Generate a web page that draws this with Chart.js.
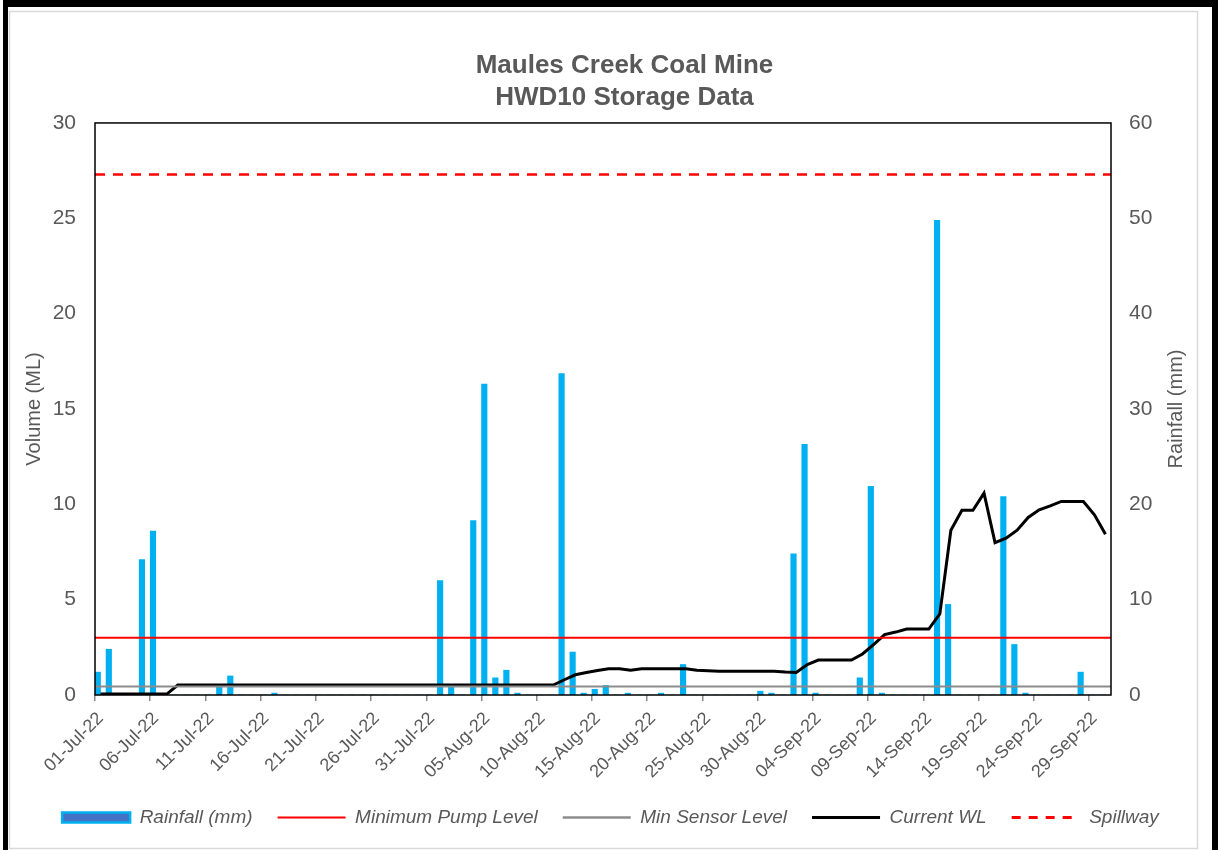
<!DOCTYPE html>
<html>
<head>
<meta charset="utf-8">
<script src="https://cdn.jsdelivr.net/npm/chart.js@4.4.0/dist/chart.umd.min.js"></script>
<style>
  html, body { margin: 0; padding: 0; background: #fff; }
  #wrap { position: relative; width: 1218px; height: 850px; }
</style>
</head>
<body>
<div id="wrap"><canvas id="storageChart" width="1218" height="850"></canvas></div>
<script>
// daily categories, 01-Jul-22 .. 30-Sep-22
const dates = [
    '01-Jul-22', '02-Jul-22', '03-Jul-22', '04-Jul-22', '05-Jul-22', '06-Jul-22', '07-Jul-22', '08-Jul-22',
    '09-Jul-22', '10-Jul-22', '11-Jul-22', '12-Jul-22', '13-Jul-22', '14-Jul-22', '15-Jul-22', '16-Jul-22',
    '17-Jul-22', '18-Jul-22', '19-Jul-22', '20-Jul-22', '21-Jul-22', '22-Jul-22', '23-Jul-22', '24-Jul-22',
    '25-Jul-22', '26-Jul-22', '27-Jul-22', '28-Jul-22', '29-Jul-22', '30-Jul-22', '31-Jul-22',
    '01-Aug-22', '02-Aug-22', '03-Aug-22', '04-Aug-22', '05-Aug-22', '06-Aug-22', '07-Aug-22', '08-Aug-22',
    '09-Aug-22', '10-Aug-22', '11-Aug-22', '12-Aug-22', '13-Aug-22', '14-Aug-22', '15-Aug-22', '16-Aug-22',
    '17-Aug-22', '18-Aug-22', '19-Aug-22', '20-Aug-22', '21-Aug-22', '22-Aug-22', '23-Aug-22', '24-Aug-22',
    '25-Aug-22', '26-Aug-22', '27-Aug-22', '28-Aug-22', '29-Aug-22', '30-Aug-22', '31-Aug-22',
    '01-Sep-22', '02-Sep-22', '03-Sep-22', '04-Sep-22', '05-Sep-22', '06-Sep-22', '07-Sep-22', '08-Sep-22',
    '09-Sep-22', '10-Sep-22', '11-Sep-22', '12-Sep-22', '13-Sep-22', '14-Sep-22', '15-Sep-22', '16-Sep-22',
    '17-Sep-22', '18-Sep-22', '19-Sep-22', '20-Sep-22', '21-Sep-22', '22-Sep-22', '23-Sep-22', '24-Sep-22',
    '25-Sep-22', '26-Sep-22', '27-Sep-22', '28-Sep-22', '29-Sep-22', '30-Sep-22'
];

// daily rainfall (mm), right axis
const rainfall = [
    2.4, 4.8, 0, 0, 14.2, 17.2, 0, 0, 0, 0, 0, 0.8, 2.0, 0, 0, 0,
    0.2, 0, 0, 0, 0, 0, 0, 0, 0, 0, 0, 0, 0, 0, 0,
    12.0, 0.8, 0, 18.3, 32.6, 1.8, 2.6, 0.2, 0, 0, 0, 33.7, 4.5, 0.2, 0.6, 1.0,
    0, 0.2, 0, 0, 0.2, 0, 3.2, 0, 0, 0, 0, 0, 0, 0.4, 0.2,
    0, 14.8, 26.3, 0.2, 0, 0, 0, 1.8, 21.9, 0.2, 0, 0, 0, 0, 49.8, 9.5,
    0, 0, 0, 0, 20.8, 5.3, 0.2, 0, 0, 0, 0, 2.4, 0, 0
];

// storage volume (ML), left axis
const currentWL = [
    0.05, 0.05, 0.05, 0.05, 0.05, 0.05, 0.05, 0.52, 0.52, 0.52, 0.52, 0.52, 0.52, 0.52, 0.52, 0.52,
    0.52, 0.52, 0.52, 0.52, 0.52, 0.52, 0.52, 0.52, 0.52, 0.52, 0.52, 0.52, 0.52, 0.52, 0.52,
    0.52, 0.52, 0.52, 0.52, 0.52, 0.52, 0.52, 0.52, 0.52, 0.52, 0.52, 0.8, 1.06, 1.18, 1.28, 1.38,
    1.38, 1.3, 1.38, 1.38, 1.38, 1.38, 1.38, 1.3, 1.27, 1.25, 1.25, 1.25, 1.25, 1.25, 1.25,
    1.2, 1.18, 1.6, 1.83, 1.83, 1.83, 1.83, 2.15, 2.64, 3.17, 3.3, 3.46, 3.46, 3.46, 4.25, 8.64,
    9.69, 9.69, 10.59, 7.99, 8.22, 8.64, 9.31, 9.71, 9.92, 10.15, 10.15, 10.15, 9.45, 8.43
];

const minPumpLevel = 3.0;
const minSensorLevel = 0.45;
const spillwayLevel = 27.3;

const seriesNames = ['Rainfall (mm)', 'Minimum Pump Level', 'Min Sensor Level', 'Current WL', 'Spillway'];

const textColor = '#595959';
const fontFamily = '"Liberation Sans", Arial, sans-serif';

// legend look per dataset (same order as datasets)
const legendLook = [
    {pointStyle: 'rect', fillStyle: '#4472C4', strokeStyle: '#00B0F0', lineWidth: 2.5},
    {pointStyle: 'line', strokeStyle: '#FF0000', lineWidth: 2},
    {pointStyle: 'line', strokeStyle: '#8C8C8C', lineWidth: 2.5},
    {pointStyle: 'line', strokeStyle: '#000000', lineWidth: 3},
    {pointStyle: 'line', strokeStyle: '#FF0000', lineWidth: 3, lineDash: [9, 8]},
];

const framePlugin = {
    id: 'frame',
    afterLayout(chart) {
        // legend sits a little left of the title in the original
        chart.legend.left -= 14;
        chart.legend.right -= 14;
    },
    beforeDraw(chart) {
        const {ctx, width, height} = chart;
        ctx.save();
        ctx.fillStyle = '#fff';
        ctx.fillRect(0, 0, width, height);
        ctx.strokeStyle = '#d9d9d9';
        ctx.lineWidth = 1.5;
        ctx.strokeRect(9.5, 11.5, 1188, 837);
        ctx.fillStyle = '#000';
        ctx.fillRect(3, 0, width - 3, 7);
        ctx.fillRect(3, 0, 5, height);
        ctx.fillRect(1212, 0, 6, height);
        ctx.restore();
    },
    afterDatasetsDraw(chart) {
        const {ctx, chartArea} = chart;
        ctx.save();
        ctx.strokeStyle = '#000';
        ctx.lineWidth = 1.5;
        ctx.strokeRect(chartArea.left, chartArea.top, chartArea.right - chartArea.left, chartArea.bottom - chartArea.top);

        // axis titles, both read bottom to top
        const midY = (chartArea.top + chartArea.bottom) / 2;
        ctx.fillStyle = textColor;
        ctx.font = '20px ' + fontFamily;
        ctx.textAlign = 'center';
        ctx.textBaseline = 'middle';
        ctx.translate(34, midY);
        ctx.rotate(-Math.PI / 2);
        ctx.fillText('Volume (ML)', 0, 0);
        ctx.rotate(Math.PI / 2);
        ctx.translate(1176 - 34, 0);
        ctx.rotate(-Math.PI / 2);
        ctx.fillText('Rainfall (mm)', 0, 0);
        ctx.restore();
    }
};

const ctx = document.getElementById('storageChart').getContext('2d');
const storageChart = new Chart(ctx, {
    type: 'bar',
    data: {
        labels: dates,
        datasets: [{
            type: 'bar',
            label: seriesNames[0],
            data: rainfall,
            xAxisID: 'x',
            yAxisID: 'y1',
            backgroundColor: '#00B0F0',
            borderWidth: 0,
            barThickness: 5.5,
            order: 1,
        }, {
            type: 'line',
            label: seriesNames[1],
            data: [{x: 0, y: minPumpLevel}, {x: 1, y: minPumpLevel}],
            xAxisID: 'xl',
            yAxisID: 'y',
            borderColor: '#FF0000',
            borderWidth: 2,
            pointRadius: 0,
            order: 0,
        }, {
            type: 'line',
            label: seriesNames[2],
            data: [{x: 0, y: minSensorLevel}, {x: 1, y: minSensorLevel}],
            xAxisID: 'xl',
            yAxisID: 'y',
            borderColor: '#8C8C8C',
            borderWidth: 2,
            pointRadius: 0,
            order: 0,
        }, {
            type: 'line',
            label: seriesNames[3],
            data: currentWL,
            xAxisID: 'x',
            yAxisID: 'y',
            borderColor: '#000000',
            borderWidth: 3,
            pointRadius: 0,
            tension: 0,
            order: 0,
        }, {
            type: 'line',
            label: seriesNames[4],
            data: [{x: 0, y: spillwayLevel}, {x: 1, y: spillwayLevel}],
            xAxisID: 'xl',
            yAxisID: 'y',
            borderColor: '#FF0000',
            borderWidth: 2.5,
            borderDash: [10, 8],
            pointRadius: 0,
            order: 0,
        }],
    },
    options: {
        responsive: false,
        animation: false,
        events: [],
        layout: {
            padding: {left: 31, right: 0, top: 0, bottom: 13},
        },
        plugins: {
            title: {
                display: true,
                text: ['Maules Creek Coal Mine', 'HWD10 Storage Data'],
                color: textColor,
                font: {family: fontFamily, size: 26, weight: 'bold', lineHeight: 1.23},
                padding: {top: 50, bottom: 9},
            },
            legend: {
                position: 'bottom',
                labels: {
                    usePointStyle: true,
                    pointStyleWidth: 68,
                    boxHeight: 10,
                    padding: 25,
                    color: textColor,
                    font: {family: fontFamily, size: 19, style: 'italic'},
                    generateLabels(chart) {
                        return chart.data.datasets.map((ds, i) => ({
                            text: ds.label,
                            datasetIndex: i,
                            hidden: false,
                            fontColor: textColor,
                            pointStyle: legendLook[i].pointStyle,
                            fillStyle: legendLook[i].fillStyle || legendLook[i].strokeStyle,
                            strokeStyle: legendLook[i].strokeStyle,
                            lineWidth: legendLook[i].lineWidth,
                            lineDash: legendLook[i].lineDash || [],
                        }));
                    },
                },
            },
            tooltip: {enabled: false},
        },
        scales: {
            x: {
                type: 'category',
                offset: true,
                afterFit: (scale) => { scale.height = 88; },
                grid: {
                    display: true,
                    offset: true,
                    drawOnChartArea: false,
                    drawTicks: true,
                    tickLength: 6,
                    color: (c) => (c.index % 5 === 0 ? '#888888' : 'rgba(0,0,0,0)'),
                    lineWidth: 1.5,
                },
                border: {display: false},
                ticks: {
                    autoSkip: false,
                    maxRotation: 45,
                    minRotation: 45,
                    padding: 7,
                    color: textColor,
                    font: {family: fontFamily, size: 18},
                    callback: function (value, index) {
                        return index % 5 === 0 ? this.getLabelForValue(value) : '';
                    },
                },
            },
            xl: {
                type: 'linear',
                display: false,
                offset: false,
                grid: {offset: false},
                min: 0,
                max: 1,
            },
            y: {
                position: 'left',
                min: 0,
                max: 30,
                afterFit: (scale) => { scale.width = 64; },
                grid: {display: false, drawTicks: false},
                border: {display: false},
                ticks: {
                    stepSize: 5,
                    padding: 19,
                    color: textColor,
                    font: {family: fontFamily, size: 21},
                },
            },
            y1: {
                position: 'right',
                min: 0,
                max: 60,
                afterFit: (scale) => { scale.width = 107; },
                grid: {display: false, drawTicks: false},
                border: {display: false},
                ticks: {
                    stepSize: 10,
                    padding: 18,
                    color: textColor,
                    font: {family: fontFamily, size: 21},
                },
            },
        },
    },
    plugins: [framePlugin],
});
</script>
</body>
</html>
